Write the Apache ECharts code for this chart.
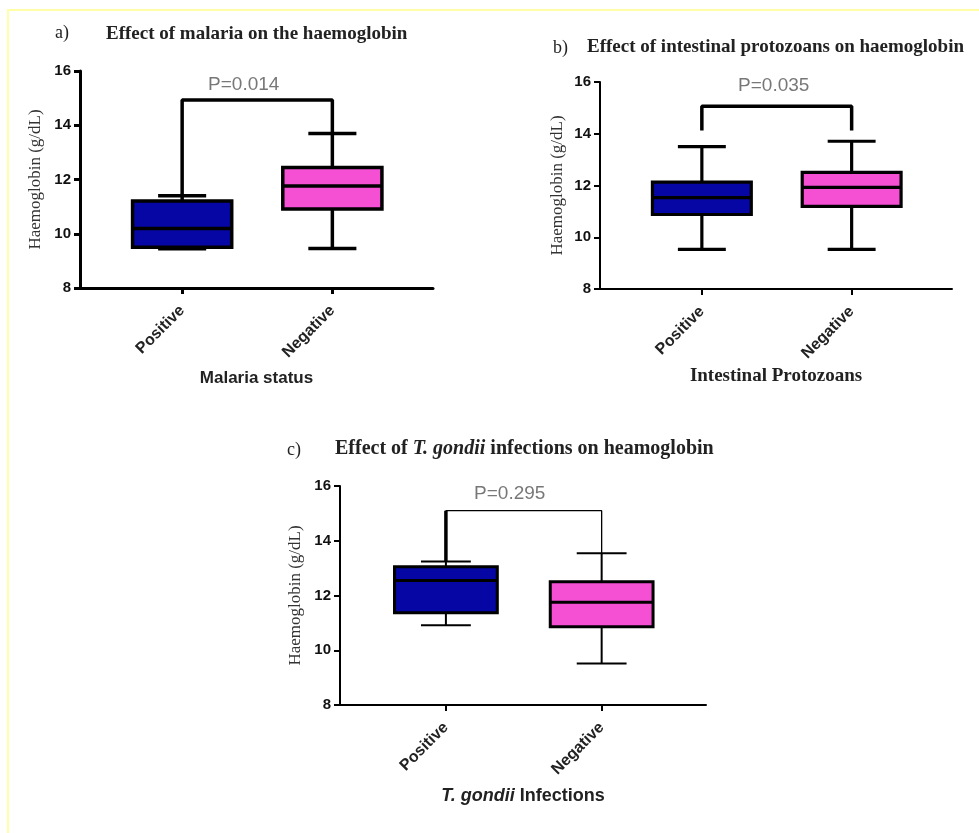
<!DOCTYPE html>
<html><head><meta charset="utf-8">
<script src="https://cdn.jsdelivr.net/npm/echarts@6/dist/echarts.min.js"></script>
<style>html,body{margin:0;padding:0;background:#fff}#c{width:979px;height:833px}</style>
</head><body><div id="c"></div>
<script>
// ---- data ----
const categories = ['Positive', 'Negative'];
const yMin = 8, yMax = 16, yStep = 2;
// [min, Q1, median, Q3, max]
const malariaPos = [9.45, 9.5, 10.19, 11.21, 11.4];
const malariaNeg = [9.46, 10.91, 11.76, 12.44, 13.7];
const protoPos = [9.53, 10.88, 11.53, 12.13, 13.5];
const protoNeg = [9.53, 11.19, 11.93, 12.51, 13.71];
const gondiiPos = [10.91, 11.37, 12.55, 13.05, 13.24];
const gondiiNeg = [9.52, 10.86, 11.75, 12.5, 13.54];
const pLabels = ['P=0.014', 'P=0.035', 'P=0.295'];
const bracketTop = [14.93, 15.06, 15.1];
const bracketLeftEnd = [11.4, 14.13, 13.24];
const bracketRightEnd = [13.7, 14.13, 13.54];
const pLabelY = [15.5, 15.85, 15.7];
const pLabelX = [0.41, 0.48, 0.41];
const panelTitles = ['Effect of malaria on the haemoglobin', 'Effect of intestinal protozoans on haemoglobin', 'Effect of T. gondii infections on heamoglobin'];
const panelLetters = ['a)', 'b)', 'c)'];
const xNames = ['Malaria status', 'Intestinal Protozoans', 'T. gondii Infections'];
const yName = 'Haemoglobin (g/dL)';

const BLUE = '#0606a4', PINK = '#f550d4';
const boxColors = [BLUE, PINK];
const SANS = 'Liberation Sans, Arial, sans-serif';
const SERIF = 'Liberation Serif, Times New Roman, serif';

const chart = echarts.init(document.getElementById('c'), null, {renderer: 'canvas'});

const grids = [
  {left: 80, top: 71, width: 353, height: 217},
  {left: 600, top: 82, width: 352, height: 207},
  {left: 340, top: 486, width: 366, height: 219}
];
const axisLW = [3, 2, 2];
const boxLW = [3.5, 3.2, 3];
const whiskLW = [3.5, 3.2, 2];

function boxRender(p) {
  return function (params, api) {
    const x = api.value(0);
    const unit = api.size([1, 0])[0];
    const bw = unit * 0.66, cw = unit * 0.32;
    const pt = i => api.coord([x, api.value(i)]);
    const pMin = pt(1), pQ1 = pt(2), pMed = pt(3), pQ3 = pt(4), pMax = pt(5);
    const cx = pMed[0];
    const ls = {stroke: '#000', lineWidth: whiskLW[p]};
    return {type: 'group', children: [
      {type: 'line', shape: {x1: cx, y1: pMax[1], x2: cx, y2: pQ3[1]}, style: ls},
      {type: 'line', shape: {x1: cx, y1: pMin[1], x2: cx, y2: pQ1[1]}, style: ls},
      {type: 'line', shape: {x1: cx - cw / 2, y1: pMax[1], x2: cx + cw / 2, y2: pMax[1]}, style: ls},
      {type: 'line', shape: {x1: cx - cw / 2, y1: pMin[1], x2: cx + cw / 2, y2: pMin[1]}, style: ls},
      {type: 'rect', shape: {x: cx - bw / 2, y: pQ3[1], width: bw, height: pQ1[1] - pQ3[1]},
        style: {fill: boxColors[params.dataIndex], stroke: '#000', lineWidth: boxLW[p]}},
      {type: 'line', shape: {x1: cx - bw / 2, y1: pMed[1], x2: cx + bw / 2, y2: pMed[1]},
        style: {stroke: '#000', lineWidth: boxLW[p]}}
    ]};
  };
}

const panelData = [[malariaPos, malariaNeg], [protoPos, protoNeg], [gondiiPos, gondiiNeg]];

const xAxes = grids.map((g, i) => ({
  type: 'value', gridIndex: i, min: -0.68, max: 1.67,
  splitLine: {show: false},
  axisLine: {show: true, onZero: false, lineStyle: {color: '#000', width: axisLW[i]}},
  axisTick: {show: true, customValues: [0, 1], length: 6, lineStyle: {color: '#000', width: axisLW[i]}},
  axisLabel: {customValues: [0, 1], formatter: v => categories[Math.round(v)], rotate: 45, margin: 20,
    fontFamily: SANS, fontWeight: 'bold', fontSize: 16, color: '#222'},
  name: i === 2 ? '{i|T. gondii}{n| Infections}' : xNames[i],
  nameLocation: 'middle', nameGap: i === 1 ? 78 : 82,
  nameTextStyle: i === 0 ? {fontFamily: SANS, fontWeight: 'bold', fontSize: 17, color: '#222'}
    : i === 1 ? {fontFamily: SERIF, fontWeight: 'bold', fontSize: 19, color: '#222'}
    : {rich: {
        i: {fontFamily: SANS, fontWeight: 'bold', fontStyle: 'italic', fontSize: 18, color: '#222'},
        n: {fontFamily: SANS, fontWeight: 'bold', fontSize: 18, color: '#222'}}}
}));

const yAxes = grids.map((g, i) => ({
  type: 'value', gridIndex: i, min: yMin, max: yMax, interval: yStep,
  splitLine: {show: false},
  axisLine: {show: true, onZero: false, lineStyle: {color: '#000', width: axisLW[i]}},
  axisTick: {show: true, length: 6, lineStyle: {color: '#000', width: axisLW[i]}},
  axisLabel: {fontFamily: SANS, fontWeight: 'bold', fontSize: 15, color: '#111', margin: 9},
  name: yName, nameLocation: 'middle', nameRotate: 90, nameGap: [36, 34, 36][i],
  nameTextStyle: {fontFamily: SERIF, fontSize: 17, color: '#333'}
}));

const series = [];
panelData.forEach((pd, i) => {
  series.push({
    type: 'custom', xAxisIndex: i, yAxisIndex: i,
    renderItem: boxRender(i),
    encode: {x: 0, y: [1, 2, 3, 4, 5]},
    data: pd.map((d, k) => [k].concat(d)),
    z: 3
  });
  series.push({
    type: 'line', xAxisIndex: i, yAxisIndex: i, symbol: 'none',
    lineStyle: {color: '#000', width: i === 2 ? 1.3 : 3.5},
    data: [[0, bracketLeftEnd[i]], [0, bracketTop[i]], [1, bracketTop[i]], [1, bracketRightEnd[i]]],
    z: 2
  });
  if (i === 2) {
    series.push({
      type: 'line', xAxisIndex: i, yAxisIndex: i, symbol: 'none',
      lineStyle: {color: '#000', width: 3.5},
      data: [[0, bracketLeftEnd[i]], [0, bracketTop[i]]], z: 2
    });
  }
  series.push({
    type: 'scatter', xAxisIndex: i, yAxisIndex: i, symbolSize: 0,
    data: [[pLabelX[i], pLabelY[i]]],
    label: {show: true, position: 'inside', formatter: pLabels[i],
      fontFamily: SANS, fontSize: 19, color: '#555'},
    silent: true, z: 4
  });
});

const titleStyle = {fontFamily: SERIF, fontWeight: 'bold', fontSize: 19, color: '#222'};
const titleStyleC = {fontFamily: SERIF, fontWeight: 'bold', fontSize: 20, color: '#222'};
const letterStyle = {fontFamily: SERIF, fontWeight: 'normal', fontSize: 18, color: '#222'};
const titles = [
  {text: panelLetters[0], left: 55, top: 24, padding: 0, textStyle: letterStyle},
  {text: panelTitles[0], left: 106, top: 25, padding: 0, textStyle: titleStyle},
  {text: panelLetters[1], left: 553, top: 39, padding: 0, textStyle: letterStyle},
  {text: panelTitles[1], left: 587, top: 38, padding: 0, textStyle: titleStyle},
  {text: panelLetters[2], left: 287, top: 441, padding: 0, textStyle: letterStyle},
  {text: '{b|Effect of }{i|T. gondii}{b| infections on heamoglobin}', left: 335, top: 439, padding: 0,
    textStyle: {rich: {
      b: titleStyleC,
      i: Object.assign({}, titleStyleC, {fontStyle: 'italic'})}}}
];

chart.setOption({
  animation: false,
  backgroundColor: '#fff',
  title: titles,
  grid: grids,
  xAxis: xAxes,
  yAxis: yAxes,
  series: series,
  graphic: [{type: 'rect', shape: {x: 8, y: 10, width: 1000, height: 900},
    style: {fill: 'none', stroke: '#ffffa8', lineWidth: 2}, silent: true}]
});
</script></body></html>
